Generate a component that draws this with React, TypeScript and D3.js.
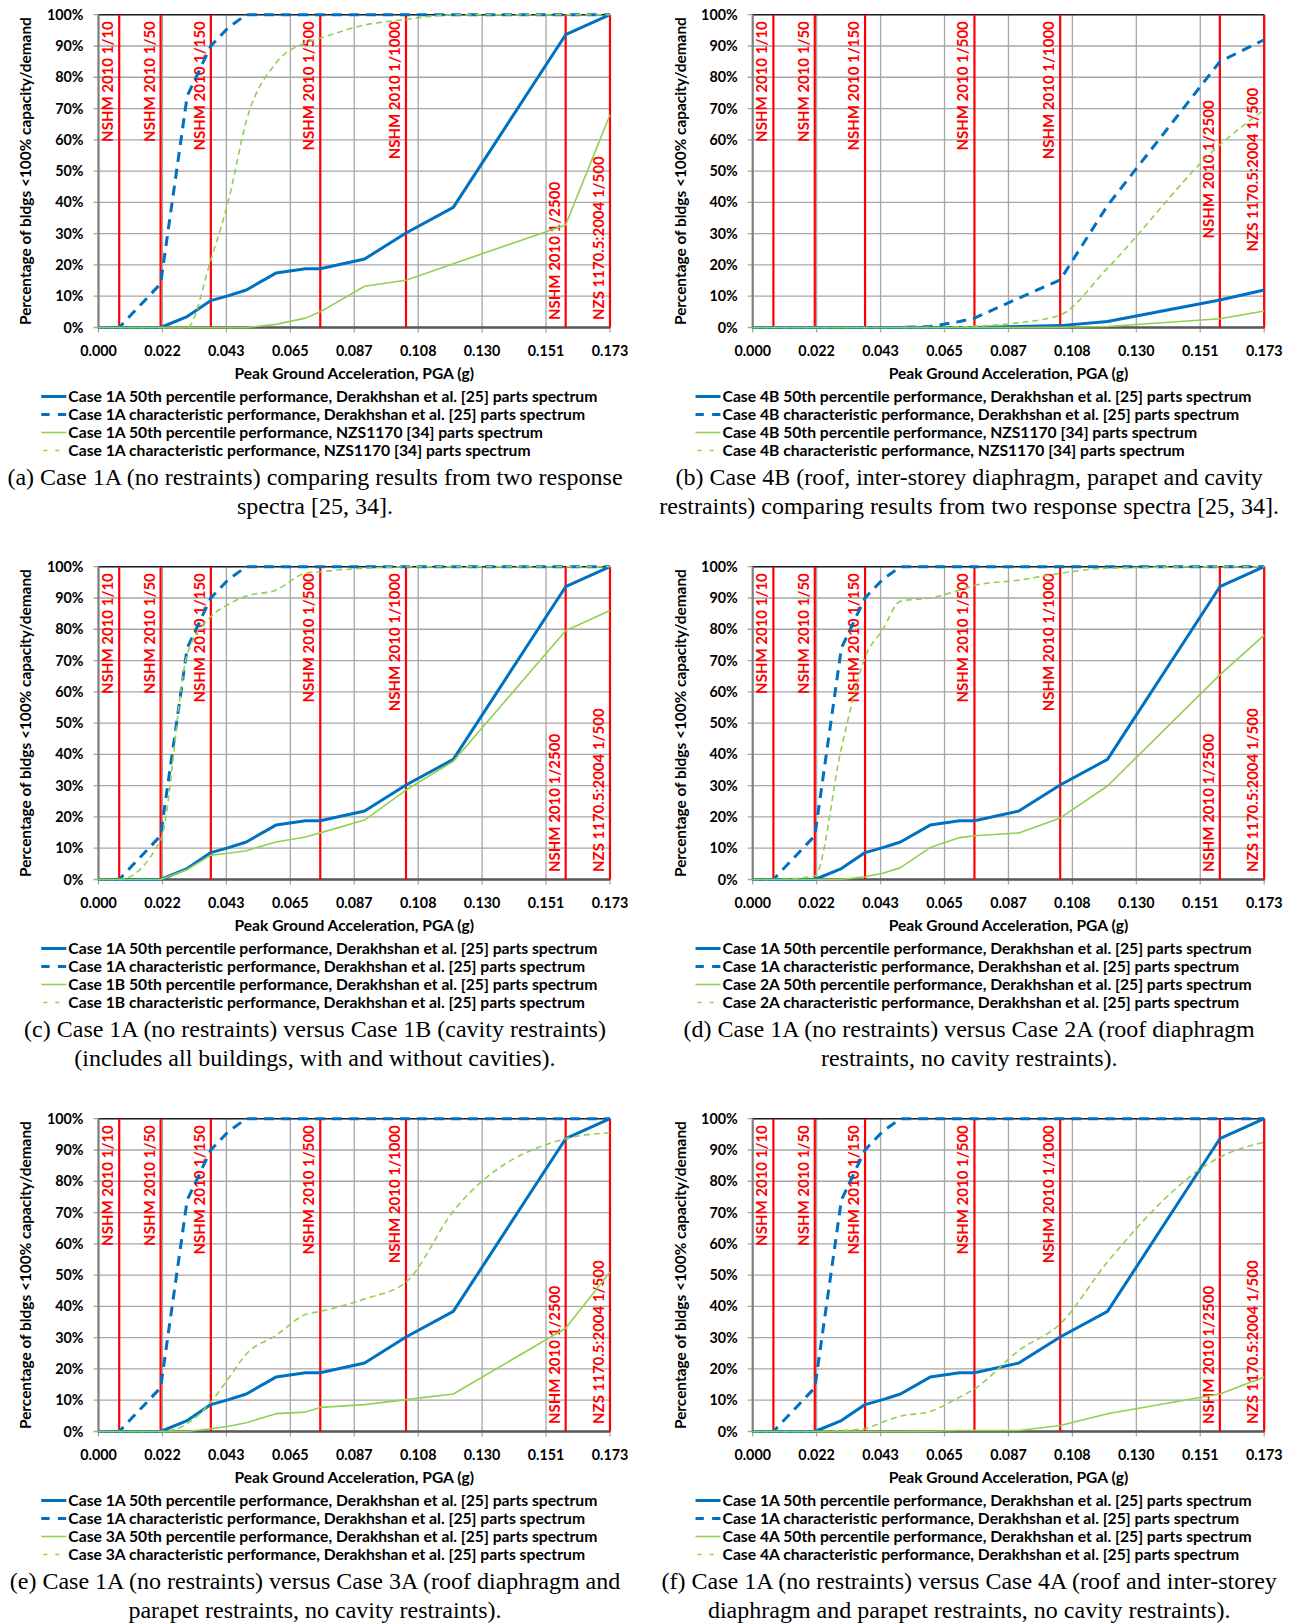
import React from "react";
import * as d3 from "d3";

// PGA values (g) at which every curve was evaluated
const PGA = [0, 0.007, 0.021, 0.03, 0.038, 0.044, 0.05, 0.06, 0.07, 0.075, 0.09, 0.104, 0.12, 0.158, 0.173];
const X_MAX = 0.173;
const X_TICK_LABELS = ["0.000", "0.022", "0.043", "0.065", "0.087", "0.108", "0.130", "0.151", "0.173"];
const Y_TICKS = [0, 10, 20, 30, 40, 50, 60, 70, 80, 90, 100];

// hazard levels drawn as red vertical lines
const HAZARD_PGA = [0.007, 0.021, 0.038, 0.075, 0.104, 0.158, 0.173];
const HAZARD_LABELS = [
  "NSHM 2010 1/10",
  "NSHM 2010 1/50",
  "NSHM 2010 1/150",
  "NSHM 2010 1/500",
  "NSHM 2010 1/1000",
  "NSHM 2010 1/2500",
  "NZS 1170.5:2004 1/500",
];

// % of buildings with capacity/demand < 100%
const case1A50 = [0, 0, 0, 3.5, 8.6, 10.2, 12, 17.4, 18.8, 18.8, 21.9, 30.2, 38.4, 93.6, 100];
const case1AChar = [0, 0, 14, 74, 90, 96, 100, 100, 100, 100, 100, 100, 100, 100, 100];
const case1ANzs50 = [0, 0, 0, 0, 0, 0, 0, 1, 3, 5, 13.2, 15.1, 20.4, 32.8, 68];
const case1ANzsChar = [0, 0, 0, 0, 21.6, 40.8, 66, 84.5, 91, 92.5, 96.7, 98.5, 100, 100, 100];
const case4B50 = [0, 0, 0, 0, 0, 0, 0, 0, 0, 0, 0.3, 0.6, 1.9, 8.8, 12];
const case4BChar = [0, 0, 0, 0, 0, 0, 0, 0.3, 1.9, 3, 9.4, 15.2, 39, 85, 92];
const case4BNzs50 = [0, 0, 0, 0, 0, 0, 0, 0, 0, 0, 0, 0.1, 0.3, 2.8, 5.3];
const case4BNzsChar = [0, 0, 0, 0, 0, 0, 0, 0, 0.2, 0.4, 1.5, 4, 19, 58.4, 69.6];
const case1B50 = [0, 0, 0, 3.2, 7.8, 8.4, 9.2, 12, 13.6, 14.9, 19, 28.6, 37.8, 79.5, 86];
const case1BChar = [0, 0, 12.6, 72, 84, 88, 90.6, 92.5, 97.9, 98.4, 99.5, 100, 100, 100, 100];
const case2A50 = [0, 0, 0, 0, 0.9, 2, 3.8, 10.2, 13.4, 14, 14.9, 19.7, 29.9, 65.4, 78.1];
const case2AChar = [0, 0, 1.1, 42, 71, 80, 89, 90, 92.5, 94, 95.7, 97.9, 99.5, 100, 100];
const case3A50 = [0, 0, 0, 0, 0.9, 1.7, 2.8, 5.7, 6.2, 7.7, 8.6, 10.2, 12, 33, 51];
const case3AChar = [0, 0, 0, 2.5, 9.4, 17, 24.8, 30.7, 37.4, 38.4, 42.4, 47.8, 70.4, 93.6, 95.5];
const case4A50 = [0, 0, 0, 0, 0, 0, 0, 0.1, 0.3, 0.3, 0.3, 1.9, 5.7, 12, 17.4];
const case4AChar = [0, 0, 0, 0.3, 0.9, 3, 4.9, 6.4, 11, 13.6, 25.9, 34.4, 54.2, 87.7, 92.5];

const DER = "Derakhshan et al. [25] parts spectrum";
const NZS = "NZS1170 [34] parts spectrum";
const legendFor = (a: string, b: string, src: string) => [
  `Case ${a} 50th percentile performance, ${DER}`,
  `Case ${a} characteristic performance, ${DER}`,
  `Case ${b} 50th percentile performance, ${src}`,
  `Case ${b} characteristic performance, ${src}`,
];

const PANELS = [
  {
    series: [case1A50, case1AChar, case1ANzs50, case1ANzsChar],
    legend: [
      `Case 1A 50th percentile performance, ${DER}`,
      `Case 1A characteristic performance, ${DER}`,
      `Case 1A 50th percentile performance, ${NZS}`,
      `Case 1A characteristic performance, ${NZS}`,
    ],
    caption: [
      "(a) Case 1A (no restraints) comparing results from two response",
      "spectra [25, 34].",
    ],
  },
  {
    series: [case4B50, case4BChar, case4BNzs50, case4BNzsChar],
    legend: [
      `Case 4B 50th percentile performance, ${DER}`,
      `Case 4B characteristic performance, ${DER}`,
      `Case 4B 50th percentile performance, ${NZS}`,
      `Case 4B characteristic performance, ${NZS}`,
    ],
    caption: [
      "(b) Case 4B (roof, inter-storey diaphragm, parapet and cavity",
      "restraints) comparing results from two response spectra [25, 34].",
    ],
  },
  {
    series: [case1A50, case1AChar, case1B50, case1BChar],
    legend: legendFor("1A", "1B", DER),
    caption: [
      "(c) Case 1A (no restraints) versus Case 1B (cavity restraints)",
      "(includes all buildings, with and without cavities).",
    ],
  },
  {
    series: [case1A50, case1AChar, case2A50, case2AChar],
    legend: legendFor("1A", "2A", DER),
    caption: [
      "(d) Case 1A (no restraints) versus Case 2A (roof diaphragm",
      "restraints, no cavity restraints).",
    ],
  },
  {
    series: [case1A50, case1AChar, case3A50, case3AChar],
    legend: legendFor("1A", "3A", DER),
    caption: [
      "(e) Case 1A (no restraints) versus Case 3A (roof diaphragm and",
      "parapet restraints, no cavity restraints).",
    ],
  },
  {
    series: [case1A50, case1AChar, case4A50, case4AChar],
    legend: legendFor("1A", "4A", DER),
    caption: [
      "(f) Case 1A (no restraints) versus Case 4A (roof and inter-storey",
      "diaphragm and parapet restraints, no cavity restraints).",
    ],
  },
];

// layout
const WIDTH = 1293;
const HEIGHT = 1623;
const COL_DX = 654.2;
const ROW_DY = 552;
const PLOT_LEFT = 98.5;
const PLOT_TOP = 14.7;
const PLOT_W = 511.5;
const PLOT_H = 312.8;
const CAPTION_CX = 315;
const LEGEND_ROWS = [396.5, 414.5, 432.5, 450.5];
// distance (px) of the two lower hazard labels above the x axis, per panel
const LOW_LABEL_GAP = [[7.5, 7.5], [89, 76], [7.5, 7.5], [7.5, 7.5], [7.5, 7.5], [7.5, 7.5]];

const BLUE = "#0070C0";
const GREEN = "#92D050";
const RED = "#FF0000";
const GRID = "#A6A6A6";
const SANS = "Lato, 'Open Sans', sans-serif";
const SERIF = "'Liberation Serif', 'Times New Roman', serif";

const STYLES = [
  { color: BLUE, width: 3, dash: undefined, curve: d3.curveLinear },
  { color: BLUE, width: 3, dash: "10,7", curve: d3.curveLinear },
  { color: GREEN, width: 1.6, dash: undefined, curve: d3.curveLinear },
  { color: GREEN, width: 1.6, dash: "6,4", curve: d3.curveMonotoneX },
];

function Panel({ index }: { index: number }) {
  const spec = PANELS[index];
  const col = index % 2;
  const row = Math.floor(index / 2);
  const ox = col * COL_DX;
  const oy = row * ROW_DY;
  const left = ox + PLOT_LEFT;
  const top = oy + PLOT_TOP;
  const right = left + PLOT_W;
  const bottom = top + PLOT_H;

  const x = d3.scaleLinear().domain([0, X_MAX]).range([left, right]);
  const y = d3.scaleLinear().domain([0, 100]).range([bottom, top]);
  const xTicks = X_TICK_LABELS.map((_, i) => (X_MAX * i) / (X_TICK_LABELS.length - 1));

  return (
    <g>
      {/* gridlines */}
      {Y_TICKS.map((t) => (
        <line key={"h" + t} x1={left - 5} x2={right} y1={y(t)} y2={y(t)} stroke={GRID} strokeWidth={1.3} />
      ))}
      {xTicks.map((t, i) => (
        <line key={"v" + i} x1={x(t)} x2={x(t)} y1={top} y2={bottom + 5} stroke={GRID} strokeWidth={1.3} />
      ))}
      <line x1={left} x2={right} y1={top} y2={top} stroke="#222" strokeWidth={1.5} />
      <line x1={right} x2={right} y1={top} y2={bottom} stroke="#555" strokeWidth={1.5} />
      <line x1={left} x2={left} y1={top} y2={bottom} stroke="#808080" strokeWidth={2.2} />
      <line x1={left} x2={right} y1={bottom} y2={bottom} stroke="#595959" strokeWidth={2.4} />

      {/* hazard lines */}
      {HAZARD_PGA.map((v, i) => {
        const low = i >= 5;
        const ty = low ? bottom - LOW_LABEL_GAP[index][i - 5] : top + 6.5;
        return (
          <g key={"hz" + i}>
            <line x1={x(v)} x2={x(v)} y1={top} y2={bottom} stroke={RED} strokeWidth={2.2} />
            <text
              transform={`translate(${x(v) - 6},${ty}) rotate(-90)`}
              textAnchor={low ? "start" : "end"}
              fill={RED}
              fontFamily={SANS}
              fontWeight="bold"
              fontSize={15}
            >
              {HAZARD_LABELS[i]}
            </text>
          </g>
        );
      })}

      {/* data */}
      {spec.series.map((s, k) => {
        const st = STYLES[k];
        const line = d3
          .line<number>()
          .x((_, i) => x(PGA[i]))
          .y((d) => y(d))
          .curve(st.curve);
        return (
          <path
            key={"s" + k}
            d={line(s) || ""}
            fill="none"
            stroke={st.color}
            strokeWidth={st.width}
            strokeDasharray={st.dash}
            strokeLinejoin="round"
          />
        );
      })}

      {/* axes labels */}
      {Y_TICKS.map((t) => (
        <text
          key={"yl" + t}
          x={left - 15}
          y={y(t)}
          dy="0.35em"
          textAnchor="end"
          fontFamily={SANS}
          fontWeight="bold"
          fontSize={14.3}
          fill="#000"
        >
          {t + "%"}
        </text>
      ))}
      {xTicks.map((t, i) => (
        <text
          key={"xl" + i}
          x={x(t)}
          y={oy + 350.7}
          dy="0.35em"
          textAnchor="middle"
          fontFamily={SANS}
          fontWeight="bold"
          fontSize={14.3}
          fill="#000"
        >
          {X_TICK_LABELS[i]}
        </text>
      ))}
      <text
        x={(left + right) / 2}
        y={oy + 373.3}
        dy="0.35em"
        textAnchor="middle"
        fontFamily={SANS}
        fontWeight="bold"
        fontSize={15.6}
      >
        Peak Ground Acceleration, PGA (g)
      </text>
      <text
        transform={`translate(${ox + 26},${(top + bottom) / 2}) rotate(-90)`}
        dy="0.35em"
        textAnchor="middle"
        fontFamily={SANS}
        fontWeight="bold"
        fontSize={15.4}
      >
        Percentage of bldgs &lt;100% capacity/demand
      </text>

      {/* legend */}
      {spec.legend.map((label, k) => {
        const st = STYLES[k];
        const ly = oy + LEGEND_ROWS[k];
        return (
          <g key={"lg" + k}>
            <line
              x1={ox + 41.3}
              x2={ox + 66.3}
              y1={ly}
              y2={ly}
              stroke={st.color}
              strokeWidth={st.width}
              strokeDasharray={k === 1 ? "8.3,8.3" : k === 3 ? "4,8" : undefined}
              strokeDashoffset={k === 3 ? -2 : 0}
            />
            <text x={ox + 68.3} y={ly} dy="0.35em" fontFamily={SANS} fontWeight="bold" fontSize={15.7}>
              {label}
            </text>
          </g>
        );
      })}

      {/* caption */}
      {spec.caption.map((c, k) => (
        <text
          key={"cap" + k}
          x={ox + CAPTION_CX}
          y={oy + 476.7 + k * 28.8}
          dy="0.35em"
          textAnchor="middle"
          fontFamily={SERIF}
          fontSize={24}
        >
          {c}
        </text>
      ))}
    </g>
  );
}

export default function App() {
  return (
    <svg
      width={WIDTH}
      height={HEIGHT}
      style={{ position: "absolute", left: 0, top: 0, background: "#fff" }}
    >
      <rect width={WIDTH} height={HEIGHT} fill="#fff" />
      {PANELS.map((_, i) => (
        <Panel key={i} index={i} />
      ))}
    </svg>
  );
}
